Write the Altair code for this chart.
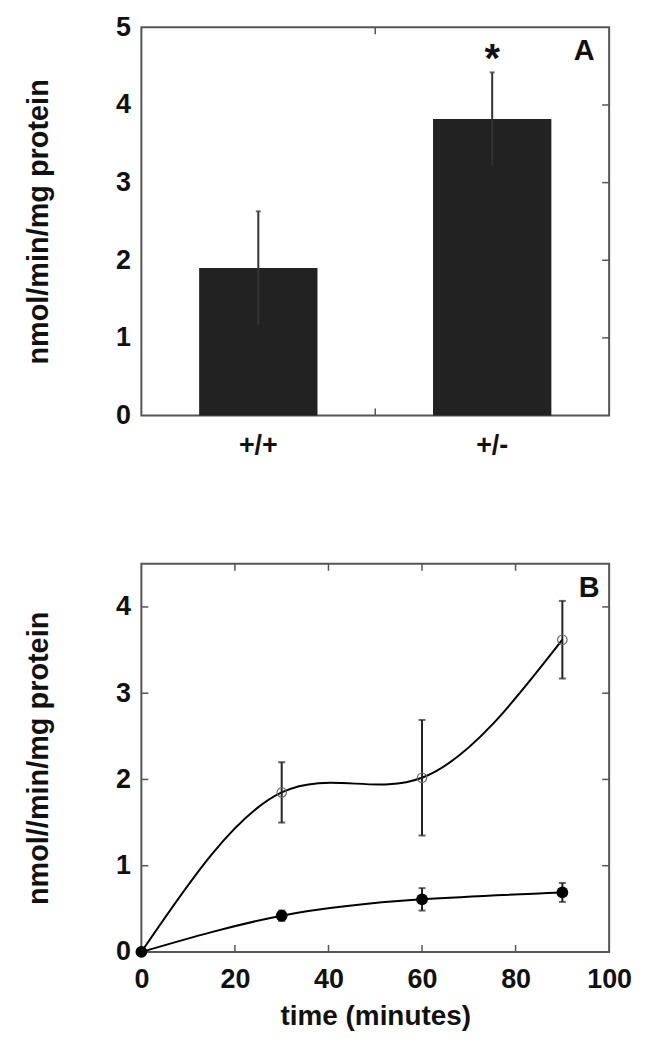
import altair as alt
import pandas as pd

# ---------------- data ----------------
genotypes = ["+/+", "+/-"]
activity = [1.90, 3.82]
activity_err = [0.73, 0.60]
signif = ["", "*"]
a_yticks = [0, 1, 2, 3, 4, 5]
a_inner_ticks = [1, 2, 3, 4]

time_min = [0, 30, 60, 90]
series_open = [0.0, 1.85, 2.02, 3.62]
series_open_err = [0.0, 0.35, 0.67, 0.45]
series_filled = [0.0, 0.42, 0.61, 0.69]
series_filled_err = [0.0, 0.06, 0.13, 0.11]
b_xticks = [0, 20, 40, 60, 80, 100]
b_yticks = [0, 1, 2, 3, 4]
b_inner_xticks = [20, 40, 60, 80]
b_inner_yticks = [1, 2, 3, 4]

# ---------------- style ----------------
W, H = 470, 390
FONT = "Liberation Sans"
INK = "#111111"
FRAME = "#555555"
TICK = 7

lab = dict(labelFont=FONT, labelFontWeight="bold", labelColor=INK,
           labelFontSize=27, titleFont=FONT, titleFontWeight="bold",
           titleColor=INK)

dfA = pd.DataFrame({
    "genotype": genotypes,
    "value": activity,
    "lo": [v - e for v, e in zip(activity, activity_err)],
    "hi": [v + e for v, e in zip(activity, activity_err)],
    "sig": signif,
})
dfA_ticks = pd.DataFrame({"value": a_inner_ticks})
one = pd.DataFrame({"k": [0]})

xA = alt.X(
    "genotype:N", sort=genotypes,
    scale=alt.Scale(paddingInner=0.494, paddingOuter=0.247),
    axis=alt.Axis(title=None, labelAngle=0, ticks=False, domain=False,
                  labelPadding=17, **lab),
)
yA = alt.Y(
    "value:Q", scale=alt.Scale(domain=[0, 5], nice=False, zero=True),
    axis=alt.Axis(values=a_yticks, format="d", title="nmol/min/mg protein",
                  ticks=False, domain=False, grid=False, labelPadding=11,
                  titleFontSize=29, titlePadding=62, **lab),
)

bars = alt.Chart(dfA).mark_bar(color="#222222").encode(x=xA, y=yA)
errA = alt.Chart(dfA).mark_rule(color="#333333", strokeWidth=2).encode(
    x=alt.X("genotype:N", sort=genotypes), y="lo:Q", y2="hi:Q")
capA = alt.Chart(dfA).mark_tick(color="#333333", thickness=2, size=5,
                                orient="horizontal").encode(
    x=alt.X("genotype:N", sort=genotypes), y="hi:Q")
starA = alt.Chart(dfA).mark_text(font=FONT, fontWeight="bold", fontSize=40,
                                 color=INK, dy=-12).encode(
    x=alt.X("genotype:N", sort=genotypes), y="hi:Q", text="sig:N")
rightA = alt.Chart(dfA_ticks).mark_rule(color=FRAME, strokeWidth=1.5).encode(
    y="value:Q", x=alt.value(W - TICK), x2=alt.value(W))
midTopA = alt.Chart(one).mark_rule(color=FRAME, strokeWidth=1.5).encode(
    x=alt.value(W / 2), y=alt.value(0), y2=alt.value(TICK))
midBotA = alt.Chart(one).mark_rule(color=FRAME, strokeWidth=1.5).encode(
    x=alt.value(W / 2), y=alt.value(H - TICK), y2=alt.value(H))
letterA = alt.Chart(one).mark_text(text="A", font=FONT, fontWeight="bold",
                                   fontSize=29, color=INK).encode(
    x=alt.value(445), y=alt.value(24))

panelA = alt.layer(bars, errA, capA, starA, rightA, midTopA, midBotA, letterA
                   ).properties(width=W, height=H)

# ---------------- panel B ----------------
rows = []
for t, v, e in zip(time_min, series_open, series_open_err):
    rows.append({"time": t, "value": v, "lo": v - e, "hi": v + e, "err": e, "series": "open"})
for t, v, e in zip(time_min, series_filled, series_filled_err):
    rows.append({"time": t, "value": v, "lo": v - e, "hi": v + e, "err": e, "series": "filled"})
dfB = pd.DataFrame(rows)
dfB_err = dfB[dfB["err"] > 0]
dfB_open = dfB[dfB["series"] == "open"]
dfB_filled = dfB[dfB["series"] == "filled"]
dfB_xt = pd.DataFrame({"time": b_inner_xticks})
dfB_yt = pd.DataFrame({"value": b_inner_yticks})

xB = alt.X("time:Q", scale=alt.Scale(domain=[0, 100], nice=False),
           axis=alt.Axis(values=b_xticks, format="d", title="time (minutes)",
                         ticks=False, domain=False, grid=False, labelPadding=15,
                         titleFontSize=28, titlePadding=10, labelFlush=False,
                         **lab))
yB = alt.Y("value:Q", scale=alt.Scale(domain=[0, 4.5], nice=False),
           axis=alt.Axis(values=b_yticks, format="d",
                         title="nmol//min/mg protein",
                         ticks=False, domain=False, grid=False, labelPadding=11,
                         titleFontSize=29, titlePadding=62, **lab))

lines = alt.Chart(dfB).mark_line(interpolate="natural", color="black",
                                 strokeWidth=2).encode(x=xB, y=yB, detail="series:N")
errB = alt.Chart(dfB_err).mark_rule(color="#222222", strokeWidth=2).encode(
    x="time:Q", y="lo:Q", y2="hi:Q")
capLo = alt.Chart(dfB_err).mark_tick(color="#222222", thickness=2, size=7,
                                     orient="horizontal").encode(x="time:Q", y="lo:Q")
capHi = alt.Chart(dfB_err).mark_tick(color="#222222", thickness=2, size=7,
                                     orient="horizontal").encode(x="time:Q", y="hi:Q")
openPts = alt.Chart(dfB_open).mark_point(shape="circle", filled=False,
                                         color="#666666", strokeWidth=1.2,
                                         size=90, opacity=1).encode(
    x="time:Q", y="value:Q")
filledPts = alt.Chart(dfB_filled).mark_point(shape="circle", filled=True,
                                             color="black", size=140,
                                             opacity=1).encode(
    x="time:Q", y="value:Q")
topB = alt.Chart(dfB_xt).mark_rule(color=FRAME, strokeWidth=1.5).encode(
    x="time:Q", y=alt.value(0), y2=alt.value(TICK))
botB = alt.Chart(dfB_xt).mark_rule(color=FRAME, strokeWidth=1.5).encode(
    x="time:Q", y=alt.value(H - TICK), y2=alt.value(H))
leftB = alt.Chart(dfB_yt).mark_rule(color=FRAME, strokeWidth=1.5).encode(
    y="value:Q", x=alt.value(0), x2=alt.value(TICK))
rightB = alt.Chart(dfB_yt).mark_rule(color=FRAME, strokeWidth=1.5).encode(
    y="value:Q", x=alt.value(W - TICK), x2=alt.value(W))
letterB = alt.Chart(one).mark_text(text="B", font=FONT, fontWeight="bold",
                                   fontSize=29, color=INK).encode(
    x=alt.value(450), y=alt.value(24))

panelB = alt.layer(lines, errB, capLo, capHi, openPts, filledPts,
                   topB, botB, leftB, rightB, letterB
                   ).properties(width=W, height=H)

chart = alt.vconcat(panelA, panelB, spacing=103).properties(
    padding={"top": 2, "left": 15, "right": 5, "bottom": 5},
    background="white",
).configure_view(
    stroke=FRAME, strokeWidth=2
)

chart.save("out.html", embed_options={"renderer": "svg", "actions": False})
